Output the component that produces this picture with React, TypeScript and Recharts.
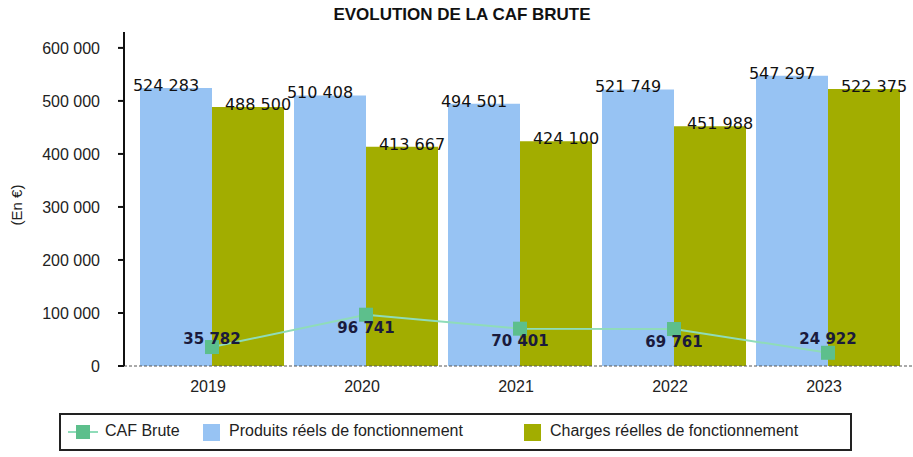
import React from 'react'
import { ComposedChart, Bar, Line, XAxis, YAxis, LabelList, Label } from 'recharts'

const years = ['2019', '2020', '2021', '2022', '2023']
const produits = [524283, 510408, 494501, 521749, 547297]
const charges = [488500, 413667, 424100, 451988, 522375]
const cafBrute = [35782, 96741, 70401, 69761, 24922]
const yTicks = [0, 100000, 200000, 300000, 400000, 500000, 600000]

// where the CAF label sits relative to its marker (px, + = below)
const cafLabelShift = [-8, 13, 12, 13, -14]

const BLUE = '#97c3f3'
const OLIVE = '#a2ad00'
const MINT = '#8fdcb9'
const MARKER = '#5dbf8c'

const fmt = (v: number) => String(v).replace(/\B(?=(\d{3})+(?!\d))/g, ' ')

const data = years.map((year, i) => ({
  year,
  produits: produits[i],
  charges: charges[i],
  caf: cafBrute[i],
}))

const barLabel = (shift: number) => (props: any) => {
  const { x, y, width, value } = props
  return (
    <text
      x={x + width / 2 + shift}
      y={y + 3}
      textAnchor="middle"
      fontFamily="DejaVu Sans"
      fontSize={16}
      fill="#111"
    >
      {fmt(value)}
    </text>
  )
}

const cafLabel = (props: any) => {
  const { x, y, value, index } = props
  return (
    <text
      x={x}
      y={y + cafLabelShift[index]}
      dy="0.35em"
      textAnchor="middle"
      fontFamily="DejaVu Sans"
      fontWeight="bold"
      fontSize={15}
      fill="#1a1a3c"
    >
      {fmt(value)}
    </text>
  )
}

const SquareDot = (props: any) => {
  const { cx, cy } = props
  return <rect x={cx - 7} y={cy - 7} width={14} height={14} fill={MARKER} />
}

const font = '"Liberation Sans", Arial, sans-serif'

export default function App() {
  return (
    <div style={{ position: 'absolute', left: 0, top: 0, width: 913, height: 457, background: '#fff', fontFamily: font }}>
      <div
        style={{
          position: 'absolute',
          left: 0,
          width: 924,
          top: 5,
          textAlign: 'center',
          fontWeight: 'bold',
          fontSize: 17,
          color: '#111',
        }}
      >
        EVOLUTION DE LA CAF BRUTE
      </div>

      <ComposedChart
        width={913}
        height={457}
        data={data}
        margin={{ top: 32, right: 0, left: 0, bottom: 61 }}
        barCategoryGap={5}
        barGap={0}
      >
        <XAxis
          dataKey="year"
          height={30}
          padding={{ left: 11, right: 8 }}
          tickLine={false}
          tickSize={0}
          tickMargin={15}
          axisLine={{ stroke: '#555', strokeDasharray: '3 2' }}
          tick={{ fill: '#222', fontSize: 16, fontFamily: font, dx: -4 }}
        />
        <YAxis
          width={124}
          domain={[0, 630000]}
          ticks={yTicks}
          tickFormatter={fmt}
          tickSize={6}
          tickMargin={18}
          axisLine={{ stroke: '#111', strokeWidth: 2 }}
          tickLine={{ stroke: '#111', strokeWidth: 2 }}
          tick={{ fill: '#222', fontSize: 16, fontFamily: font }}
        >
          <Label
            content={() => (
              <text
                x={17}
                y={205}
                transform="rotate(-90 17 205)"
                textAnchor="middle"
                dy="0.35em"
                fontFamily={font}
                fontSize={15}
                fill="#222"
              >
                (En €)
              </text>
            )}
          />
        </YAxis>
        <Bar dataKey="produits" fill={BLUE} isAnimationActive={false}>
          <LabelList dataKey="produits" content={barLabel(-10)} />
        </Bar>
        <Bar dataKey="charges" fill={OLIVE} isAnimationActive={false}>
          <LabelList dataKey="charges" content={barLabel(10)} />
        </Bar>
        <Line
          dataKey="caf"
          stroke={MINT}
          strokeWidth={2}
          dot={<SquareDot />}
          activeDot={false}
          isAnimationActive={false}
        >
          <LabelList dataKey="caf" content={cafLabel} />
        </Line>
      </ComposedChart>

      <div
        style={{
          position: 'absolute',
          left: 59,
          top: 413,
          width: 789,
          height: 34,
          border: '2px solid #222',
          fontSize: 16,
          color: '#222',
        }}
      >
        <div style={{ position: 'absolute', left: 7, top: 16, width: 30, height: 2, background: MINT }} />
        <div style={{ position: 'absolute', left: 15, top: 10, width: 14, height: 14, background: MARKER }} />
        <div style={{ position: 'absolute', left: 44, top: 7 }}>CAF Brute</div>
        <div style={{ position: 'absolute', left: 142, top: 9, width: 17, height: 17, background: BLUE }} />
        <div style={{ position: 'absolute', left: 168, top: 7 }}>Produits réels de fonctionnement</div>
        <div style={{ position: 'absolute', left: 463, top: 9, width: 17, height: 17, background: OLIVE }} />
        <div style={{ position: 'absolute', left: 489, top: 7 }}>Charges réelles de fonctionnement</div>
      </div>
    </div>
  )
}
